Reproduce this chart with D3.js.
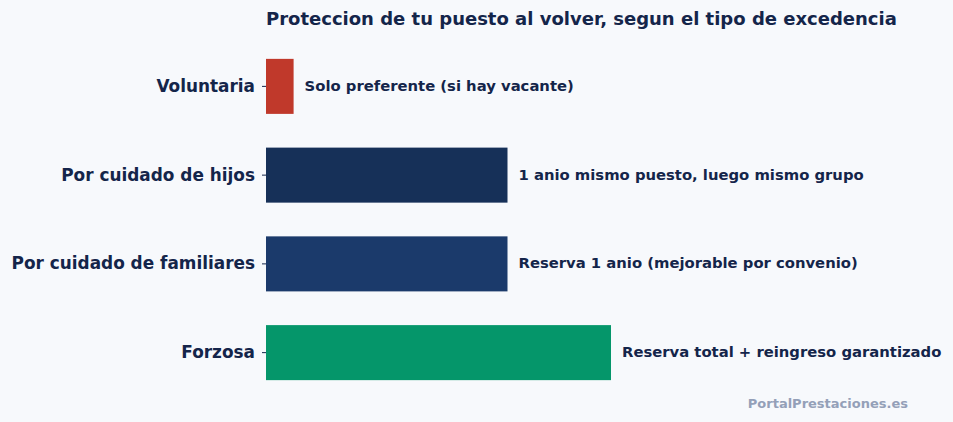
<!DOCTYPE html>
<html>
<head>
<meta charset="utf-8">
<script src="https://cdn.jsdelivr.net/npm/d3@7"></script>
<style>
  html, body { margin: 0; padding: 0; background: #f7f9fc; }
  svg { display: block; font-family: "DejaVu Sans", sans-serif; }
</style>
</head>
<body>
<div id="chart"></div>
<script>
// datos
const categorias = ['Voluntaria', 'Por cuidado de hijos', 'Por cuidado de familiares', 'Forzosa'];
const proteccion = [8, 70, 70, 100];
const etiquetas = [
    'Solo preferente (si hay vacante)',
    '1 anio mismo puesto, luego mismo grupo',
    'Reserva 1 anio (mejorable por convenio)',
    'Reserva total + reingreso garantizado'
];
const colores = ['#c0392b', '#163058', '#1b3a6b', '#05966a'];

const width = 953, height = 422;
const margin = { top: 42, right: 342, bottom: 25, left: 266 };
const ink = '#14254a';

const svg = d3.select('#chart').append('svg')
    .attr('width', width)
    .attr('height', height);

svg.append('rect').attr('width', width).attr('height', height).attr('fill', '#f7f9fc');

const x = d3.scaleLinear().domain([0, 100]).range([margin.left, width - margin.right]);
const y = d3.scaleBand()
    .domain(categorias)
    .range([margin.top, height - margin.bottom])
    .paddingInner(0.38)
    .paddingOuter(0.19);

// eje Y (solo ticks y etiquetas)
const yAxis = svg.append('g')
    .attr('transform', `translate(${margin.left},0)`)
    .call(d3.axisLeft(y).tickSize(4).tickPadding(7));
yAxis.select('.domain').remove();
yAxis.selectAll('line').attr('stroke', ink);
yAxis.selectAll('text')
    .attr('fill', ink)
    .attr('font-size', '16.9px')
    .attr('font-weight', 'bold')
    .attr('font-family', 'DejaVu Sans, sans-serif');

const rows = categorias.map((c, i) => ({ cat: c, val: proteccion[i], label: etiquetas[i], color: colores[i] }));

// barras
svg.selectAll('rect.bar')
    .data(rows)
    .join('rect')
    .attr('class', 'bar')
    .attr('x', x(0))
    .attr('y', d => y(d.cat))
    .attr('width', d => x(d.val) - x(0))
    .attr('height', y.bandwidth())
    .attr('fill', d => d.color);

// textos de cada barra
svg.selectAll('text.lbl')
    .data(rows)
    .join('text')
    .attr('class', 'lbl')
    .attr('x', d => x(d.val) + 11)
    .attr('y', d => y(d.cat) + y.bandwidth() / 2)
    .attr('dy', '0.3em')
    .attr('fill', ink)
    .attr('font-size', '14.8px')
    .attr('font-weight', 'bold')
    .text(d => d.label);

// titulo
svg.append('text')
    .attr('x', margin.left)
    .attr('y', 25)
    .attr('fill', ink)
    .attr('font-size', '18px')
    .attr('font-weight', 'bold')
    .text('Proteccion de tu puesto al volver, segun el tipo de excedencia');

// marca de agua
svg.append('text')
    .attr('x', 908)
    .attr('y', 408)
    .attr('text-anchor', 'end')
    .attr('fill', '#94a0b8')
    .attr('font-size', '13px')
    .attr('font-weight', 'bold')
    .text('PortalPrestaciones.es');
</script>
</body>
</html>
